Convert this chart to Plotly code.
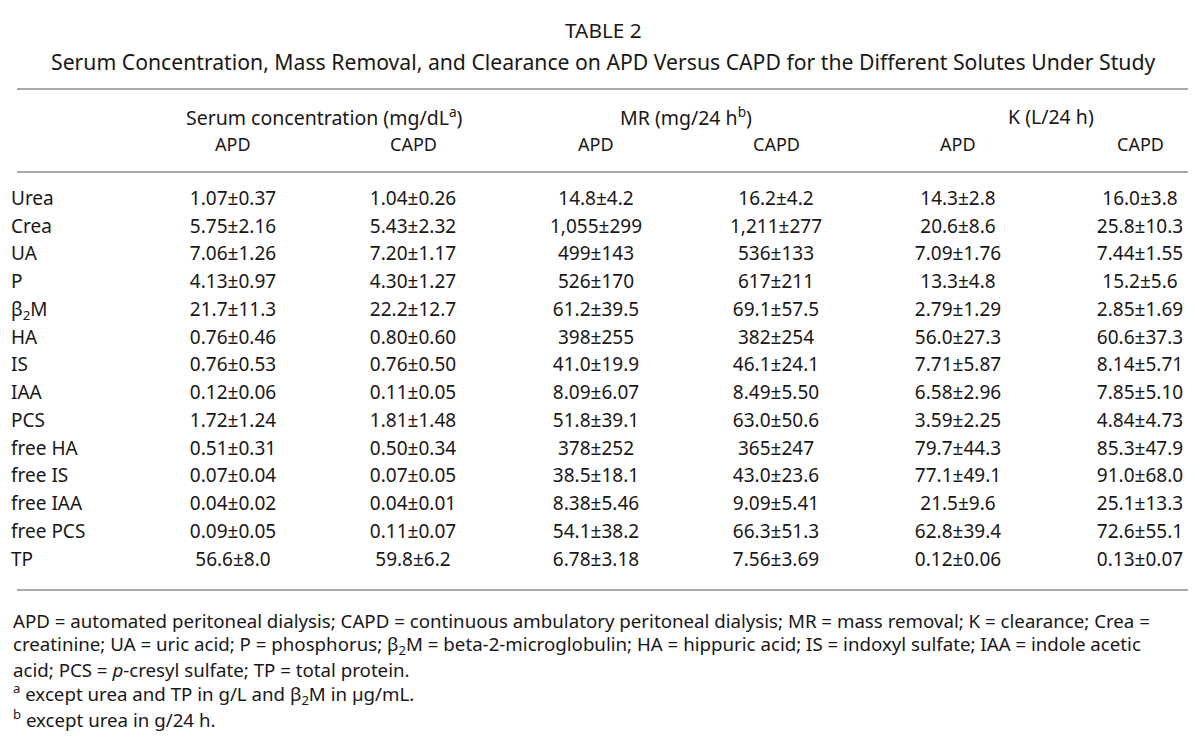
import plotly.graph_objects as go

# ---------------- data ----------------
solutes = ["Urea", "Crea", "UA", "P", "β<sub>2</sub>M", "HA", "IS", "IAA", "PCS",
           "free HA", "free IS", "free IAA", "free PCS", "TP"]

serum_apd = ["1.07±0.37", "5.75±2.16", "7.06±1.26", "4.13±0.97", "21.7±11.3", "0.76±0.46",
             "0.76±0.53", "0.12±0.06", "1.72±1.24", "0.51±0.31", "0.07±0.04", "0.04±0.02",
             "0.09±0.05", "56.6±8.0"]
serum_capd = ["1.04±0.26", "5.43±2.32", "7.20±1.17", "4.30±1.27", "22.2±12.7", "0.80±0.60",
              "0.76±0.50", "0.11±0.05", "1.81±1.48", "0.50±0.34", "0.07±0.05", "0.04±0.01",
              "0.11±0.07", "59.8±6.2"]
mr_apd = ["14.8±4.2", "1,055±299", "499±143", "526±170", "61.2±39.5", "398±255",
          "41.0±19.9", "8.09±6.07", "51.8±39.1", "378±252", "38.5±18.1", "8.38±5.46",
          "54.1±38.2", "6.78±3.18"]
mr_capd = ["16.2±4.2", "1,211±277", "536±133", "617±211", "69.1±57.5", "382±254",
           "46.1±24.1", "8.49±5.50", "63.0±50.6", "365±247", "43.0±23.6", "9.09±5.41",
           "66.3±51.3", "7.56±3.69"]
k_apd = ["14.3±2.8", "20.6±8.6", "7.09±1.76", "13.3±4.8", "2.79±1.29", "56.0±27.3",
         "7.71±5.87", "6.58±2.96", "3.59±2.25", "79.7±44.3", "77.1±49.1", "21.5±9.6",
         "62.8±39.4", "0.12±0.06"]
k_capd = ["16.0±3.8", "25.8±10.3", "7.44±1.55", "15.2±5.6", "2.85±1.69", "60.6±37.3",
          "8.14±5.71", "7.85±5.10", "4.84±4.73", "85.3±47.9", "91.0±68.0", "25.1±13.3",
          "72.6±55.1", "0.13±0.07"]

group_headers = ["Serum concentration (mg/dL<sup>a</sup>)", "MR (mg/24 h<sup>b</sup>)", "K (L/24 h)"]
sub_headers = ["APD", "CAPD", "APD", "CAPD", "APD", "CAPD"]

title = "TABLE 2"
subtitle = ("Serum Concentration, Mass Removal, and Clearance on APD Versus CAPD "
            "for the Different Solutes Under Study")
footnotes = [
    "APD = automated peritoneal dialysis; CAPD = continuous ambulatory peritoneal dialysis; "
    "MR = mass removal; K = clearance; Crea =",
    "creatinine; UA = uric acid; P = phosphorus; β<sub>2</sub>M = beta-2-microglobulin; "
    "HA = hippuric acid; IS = indoxyl sulfate; IAA = indole acetic",
    "acid; PCS = <i>p</i>-cresyl sulfate; TP = total protein.",
    "<sup>a</sup> except urea and TP in g/L and β<sub>2</sub>M in µg/mL.",
    "<sup>b</sup> except urea in g/24 h.",
]

# ---------------- layout constants ----------------
W, H = 1200, 742
FONT = "Noto Sans"
TXT = "#1a1718"
LINE = "#8c8c8c"
col_x = [225, 405, 588, 768, 950, 1132]
group_x = [316, 678, 1043]
row_y0, row_step = 192, 27.77
fs_cell = 19
fs_head = 18
fs_group = 19.5
fs_foot = 18.7
fs_title = 20.8

fig = go.Figure()

columns = [serum_apd, serum_capd, mr_apd, mr_capd, k_apd, k_capd]
rows_y = [row_y0 + i * row_step for i in range(len(solutes))]

fig.add_trace(go.Scatter(
    x=[3] * len(solutes), y=rows_y, text=solutes, mode="text",
    textposition="middle right", textfont=dict(family=FONT, size=fs_cell, color=TXT),
    hoverinfo="skip", showlegend=False, cliponaxis=False))

for cx, col in zip(col_x, columns):
    fig.add_trace(go.Scatter(
        x=[cx] * len(col), y=rows_y, text=col, mode="text",
        textposition="middle center", textfont=dict(family=FONT, size=fs_cell, color=TXT),
        hoverinfo="skip", showlegend=False, cliponaxis=False))

ann = []
ann.append(dict(x=595, y=22, text=title, font=dict(size=fs_title)))
ann.append(dict(x=595, y=53, text=subtitle, font=dict(size=21.2)))
for gx, g in zip(group_x, group_headers):
    ann.append(dict(x=gx, y=108, text=g, font=dict(size=fs_group)))
for cx, s in zip(col_x, sub_headers):
    ann.append(dict(x=cx, y=136, text=s, font=dict(size=fs_head)))
foot_y = [612, 637, 661, 686, 710]
for fy, t in zip(foot_y, footnotes):
    ann.append(dict(x=4, y=fy, text=t, xanchor="left", font=dict(size=fs_foot),
                    borderpad=0))

for a in ann:
    a.setdefault("xanchor", "center")
    a["font"]["family"] = FONT
    a["font"]["color"] = TXT
    fig.add_annotation(xref="x", yref="y", yanchor="middle", showarrow=False, **a)

for ly in [81, 164, 582]:
    fig.add_shape(type="line", xref="x", yref="y", x0=9, x1=1180, y0=ly, y1=ly,
                  line=dict(color=LINE, width=1.6))

fig.update_layout(
    width=W, height=H, margin=dict(l=0, r=0, t=0, b=0),
    paper_bgcolor="white", plot_bgcolor="white",
    xaxis=dict(range=[0, W], visible=False, fixedrange=True),
    yaxis=dict(range=[H, 0], visible=False, fixedrange=True),
)

fig.write_html("out.html")
